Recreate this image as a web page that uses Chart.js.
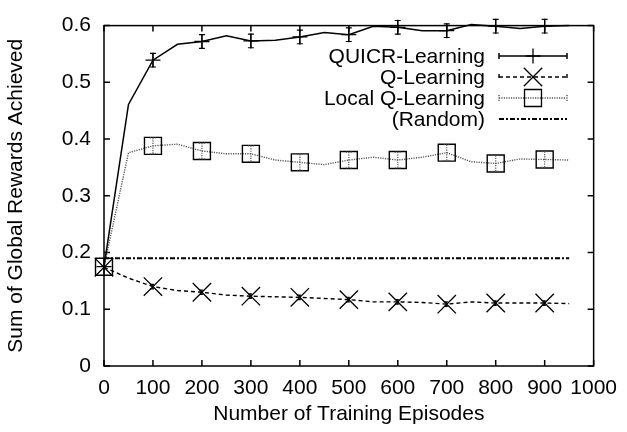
<!DOCTYPE html>
<html>
<head>
<meta charset="utf-8">
<script src="https://cdn.jsdelivr.net/npm/chart.js@4.4.1/dist/chart.umd.min.js"></script>
<style>
  html, body { margin: 0; padding: 0; background: #fff; }
</style>
</head>
<body>
<canvas id="rewardChart" width="627" height="432"></canvas>
<script>
// training episodes (line points every 50, markers every 100)
const episodes = [0, 50, 100, 150, 200, 250, 300, 350, 400, 450, 500, 550, 600, 650, 700, 750, 800, 850, 900, 950];
const quicrLearning = [0.175, 0.461, 0.539, 0.567, 0.572, 0.582, 0.573, 0.574, 0.580, 0.588, 0.584, 0.599, 0.597, 0.591, 0.591, 0.602, 0.599, 0.595, 0.599, 0.600];
const qLearning = [0.174, 0.155, 0.140, 0.133, 0.130, 0.125, 0.123, 0.122, 0.121, 0.119, 0.117, 0.113, 0.113, 0.112, 0.109, 0.113, 0.111, 0.111, 0.111, 0.110];
const localQLearning = [0.175, 0.376, 0.388, 0.391, 0.379, 0.374, 0.374, 0.363, 0.359, 0.355, 0.363, 0.368, 0.363, 0.368, 0.376, 0.360, 0.357, 0.365, 0.364, 0.363];
const randomEpisodes = [0, 950];
const randomReward = [0.19, 0.19];

// error bars at the marker positions
const markerEpisodes = [0, 100, 200, 300, 400, 500, 600, 700, 800, 900];
const quicrErr = [0, 0.012, 0.012, 0.012, 0.012, 0.012, 0.012, 0.012, 0.012, 0.012];
const qErr = [0, 0.004, 0.004, 0.004, 0.004, 0.004, 0.004, 0.004, 0.004, 0.004];
const localErr = [0, 0.014, 0.014, 0.014, 0.014, 0.014, 0.014, 0.014, 0.014, 0.014];

const xTicks = [0, 100, 200, 300, 400, 500, 600, 700, 800, 900, 1000];
const yTicks = [0, 0.1, 0.2, 0.3, 0.4, 0.5, 0.6];

const toPoints = (xs, ys) => xs.map((x, i) => ({ x: x, y: ys[i] }));
const markerRadius = r => ctx => (ctx.raw && markerEpisodes.includes(ctx.raw.x)) ? r : 0;

const FONT = '"Liberation Sans", Arial, Helvetica, sans-serif';
Chart.defaults.font.family = FONT;
Chart.defaults.font.size = 21;
Chart.defaults.color = '#000';

// gnuplot style frame with inward ticks
const framePlugin = {
    id: 'frame',
    beforeDatasetsDraw(chart) {
        const { ctx, chartArea: a, scales } = chart;
        ctx.save();
        ctx.strokeStyle = '#000';
        ctx.lineWidth = 1.5;
        ctx.strokeRect(a.left, a.top, a.right - a.left, a.bottom - a.top);
        ctx.beginPath();
        xTicks.forEach(v => {
            const px = scales.x.getPixelForValue(v);
            ctx.moveTo(px, a.bottom); ctx.lineTo(px, a.bottom - 6);
            ctx.moveTo(px, a.top); ctx.lineTo(px, a.top + 6);
        });
        yTicks.forEach(v => {
            const py = scales.y.getPixelForValue(v);
            ctx.moveTo(a.left, py); ctx.lineTo(a.left + 6, py);
            ctx.moveTo(a.right, py); ctx.lineTo(a.right - 6, py);
        });
        ctx.stroke();
        ctx.restore();
    }
};

// error bars with caps
const errorBarPlugin = {
    id: 'errorBars',
    afterDatasetsDraw(chart) {
        const { ctx, scales } = chart;
        chart.data.datasets.forEach(ds => {
            if (!ds.errors) return;
            ctx.save();
            ctx.strokeStyle = ds.borderColor;
            ctx.lineWidth = 1.2;
            ctx.setLineDash(ds.borderDash || []);
            markerEpisodes.forEach((ep, i) => {
                const e = ds.errors[i];
                if (!e) return;
                const idx = episodes.indexOf(ep);
                const y = ds.data[idx].y;
                const px = scales.x.getPixelForValue(ep);
                const top = scales.y.getPixelForValue(y + e);
                const bot = scales.y.getPixelForValue(y - e);
                ctx.beginPath();
                ctx.moveTo(px, top); ctx.lineTo(px, bot);
                ctx.moveTo(px - 3, top); ctx.lineTo(px + 3, top);
                ctx.moveTo(px - 3, bot); ctx.lineTo(px + 3, bot);
                ctx.stroke();
            });
            ctx.restore();
        });
    }
};

function drawMarker(ctx, style, x, y, r) {
    ctx.beginPath();
    if (style === 'cross') {
        ctx.moveTo(x - r, y); ctx.lineTo(x + r, y);
        ctx.moveTo(x, y - r); ctx.lineTo(x, y + r);
    } else if (style === 'crossRot') {
        const d = r * Math.SQRT1_2;
        ctx.moveTo(x - d, y - d); ctx.lineTo(x + d, y + d);
        ctx.moveTo(x - d, y + d); ctx.lineTo(x + d, y - d);
    } else if (style === 'rect') {
        const s = r * Math.SQRT1_2;
        ctx.rect(x - s, y - s, 2 * s, 2 * s);
    }
    ctx.stroke();
}

// legend inside the plot, text right aligned, sample on the right
const legendPlugin = {
    id: 'insideLegend',
    afterDraw(chart) {
        const { ctx } = chart;
        const rows = [56, 77, 98, 119];
        const textRight = 485, x0 = 499, x1 = 567, xm = 533;
        ctx.save();
        chart.data.datasets.forEach((ds, i) => {
            const y = rows[i];
            ctx.fillStyle = '#000';
            ctx.font = '21px ' + FONT;
            ctx.textAlign = 'right';
            ctx.textBaseline = 'middle';
            ctx.fillText(ds.label, textRight, y + 1);

            ctx.strokeStyle = ds.borderColor;
            ctx.lineWidth = ds.borderWidth;
            ctx.setLineDash(ds.borderDash || []);
            ctx.beginPath();
            ctx.moveTo(x0, y); ctx.lineTo(x1, y);
            if (ds.errors) {
                ctx.moveTo(x0, y - 3); ctx.lineTo(x0, y + 3);
                ctx.moveTo(x1, y - 3); ctx.lineTo(x1, y + 3);
            }
            ctx.stroke();
            ctx.setLineDash([]);
            if (ds.legendMarker) {
                ctx.strokeStyle = '#000';
                ctx.lineWidth = 1.3;
                drawMarker(ctx, ds.pointStyle, xm, y, ds.legendMarker);
            }
        });
        ctx.restore();
    }
};

const ctx = document.getElementById('rewardChart').getContext('2d');
new Chart(ctx, {
    type: 'line',
    data: {
        datasets: [
            {
                label: 'QUICR-Learning',
                data: toPoints(episodes, quicrLearning),
                errors: quicrErr,
                borderColor: '#000',
                borderWidth: 1.5,
                pointStyle: 'cross',
                pointRadius: markerRadius(7.5),
                pointBorderColor: '#000',
                pointBorderWidth: 1.3,
                legendMarker: 7.5
            },
            {
                label: 'Q-Learning',
                data: toPoints(episodes, qLearning),
                errors: qErr,
                borderColor: '#000',
                borderWidth: 1.4,
                borderDash: [4, 3],
                pointStyle: 'crossRot',
                pointRadius: markerRadius(13),
                pointBorderColor: '#000',
                pointBorderWidth: 1.3,
                legendMarker: 13
            },
            {
                label: 'Local Q-Learning',
                data: toPoints(episodes, localQLearning),
                errors: localErr,
                borderColor: '#555',
                borderWidth: 1.4,
                borderDash: [1.2, 1.2],
                pointStyle: 'rect',
                pointRadius: markerRadius(12),
                pointBorderColor: '#000',
                pointBackgroundColor: 'rgba(0,0,0,0)',
                pointBorderWidth: 1.4,
                legendMarker: 12
            },
            {
                label: '(Random)',
                data: toPoints(randomEpisodes, randomReward),
                borderColor: '#000',
                borderWidth: 2,
                borderDash: [5, 2, 2, 2],
                pointRadius: 0
            }
        ]
    },
    options: {
        responsive: false,
        animation: false,
        clip: false,
        events: [],
        layout: { padding: { top: 14, right: 29, left: 0, bottom: 0 } },
        plugins: {
            legend: { display: false },
            tooltip: { enabled: false }
        },
        elements: { line: { tension: 0, fill: false } },
        scales: {
            x: {
                type: 'linear',
                min: 0,
                max: 1000,
                afterBuildTicks: scale => { scale.ticks = xTicks.map(v => ({ value: v })); },
                afterFit: scale => { scale.height = 66; },
                grid: { display: false, drawTicks: false },
                border: { display: false },
                ticks: { padding: 10, maxRotation: 0, autoSkip: false, callback: v => String(v) },
                title: { display: true, text: 'Number of Training Episodes', padding: { top: 0, bottom: 5 } }
            },
            y: {
                min: 0,
                max: 0.6,
                afterBuildTicks: scale => { scale.ticks = yTicks.map(v => ({ value: v })); },
                afterFit: scale => { scale.width = 104; },
                grid: { display: false, drawTicks: false },
                border: { display: false },
                ticks: { padding: 13, callback: v => String(v) },
                title: { display: true, text: 'Sum of Global Rewards Achieved', padding: { top: 4, bottom: 0 } }
            }
        }
    },
    plugins: [framePlugin, errorBarPlugin, legendPlugin]
});
</script>
</body>
</html>
